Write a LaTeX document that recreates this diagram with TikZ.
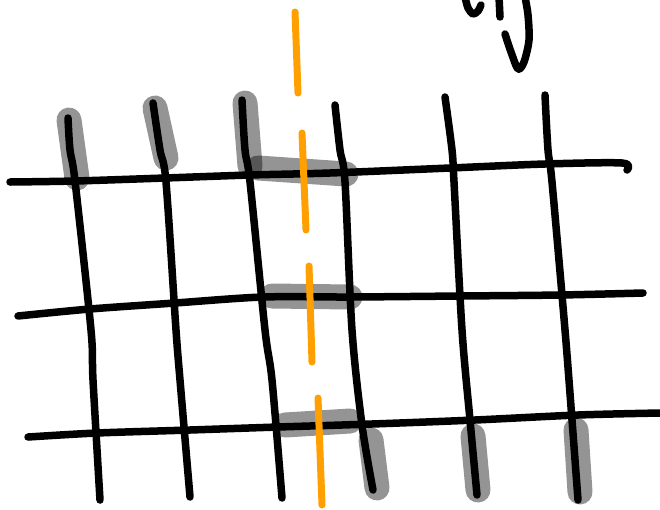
\documentclass[tikz,border=0pt]{standalone}
\definecolor{cutcolor}{HTML}{FFA000}
\begin{document}
\begin{tikzpicture}[x=1pt, y=-1pt, line cap=round, line join=round,
  ink/.style={line width=7.5pt, black},
  hilite/.style={line width=25pt, black, opacity=0.42},
  cut/.style={line width=7pt, cutcolor}]
  \useasboundingbox (0,0) rectangle (660,509);
  % Grey highlights under the grid
  \foreach \xa/\ya/\xb/\yb in {69/120/77/178, 155/108/166/158, 245/103/250/166,
      258/168/346/174, 272/296/350/297, 285/425/350/421,
      371/440/377/488, 473/436/478/490, 576/430/580/492}{
    \draw[hilite] (\xa,\ya) -- (\xb,\yb);
  }
  % Horizontal strokes
  \draw[ink] plot[smooth] coordinates {(10,182) (75,181) (165,178) (250,175) (330,173) (450,168) (545,164) (622,163) (627,170)};
  \draw[ink] plot[smooth] coordinates {(18,316) (90,309) (175,303) (263,297) (350,297) (460,296) (560,295) (643,293)};
  \draw[ink] plot[smooth] coordinates {(28,437) (97,433) (190,430) (278,427) (372,424) (475,420) (578,415) (660,413)};
  % Vertical strokes
  \draw[ink] plot[smooth] coordinates {(68,118) (70,150) (75,181) (91,330) (93,380) (100,500)};
  \draw[ink] plot[smooth] coordinates {(153,103) (160,150) (166,182) (176,330) (180,380) (190,497)};
  \draw[ink] plot[smooth] coordinates {(242,100) (245,150) (250,182) (265,330) (272,380) (282,498)};
  \draw[ink] plot[smooth] coordinates {(335,105) (340,150) (345,182) (352,330) (362,425) (373,490)};
  \draw[ink] plot[smooth] coordinates {(445,97) (452,150) (454,182) (462,330) (470,420) (477,495)};
  \draw[ink] plot[smooth] coordinates {(545,95) (548,150) (552,182) (565,330) (572,420) (578,500)};
  % Orange cut line
  \foreach \xa/\ya/\xb/\yb in {295/12/298/93, 302/133/306/230, 309/266/312/362, 318/398/322/505}{
    \draw[cut] (\xa,\ya) -- (\xb,\yb);
  }
  % Scribble, top right
  \draw[ink] plot[smooth] coordinates {(465,-3) (468,8) (473,14) (478,11) (481,5)};
  \draw[ink] (499,-3) -- (500,17);
  \draw[ink] plot[smooth] coordinates {(505,34) (511,52) (518,69) (524,62) (529,40) (528,15) (525,-3)};
\end{tikzpicture}
\end{document}
